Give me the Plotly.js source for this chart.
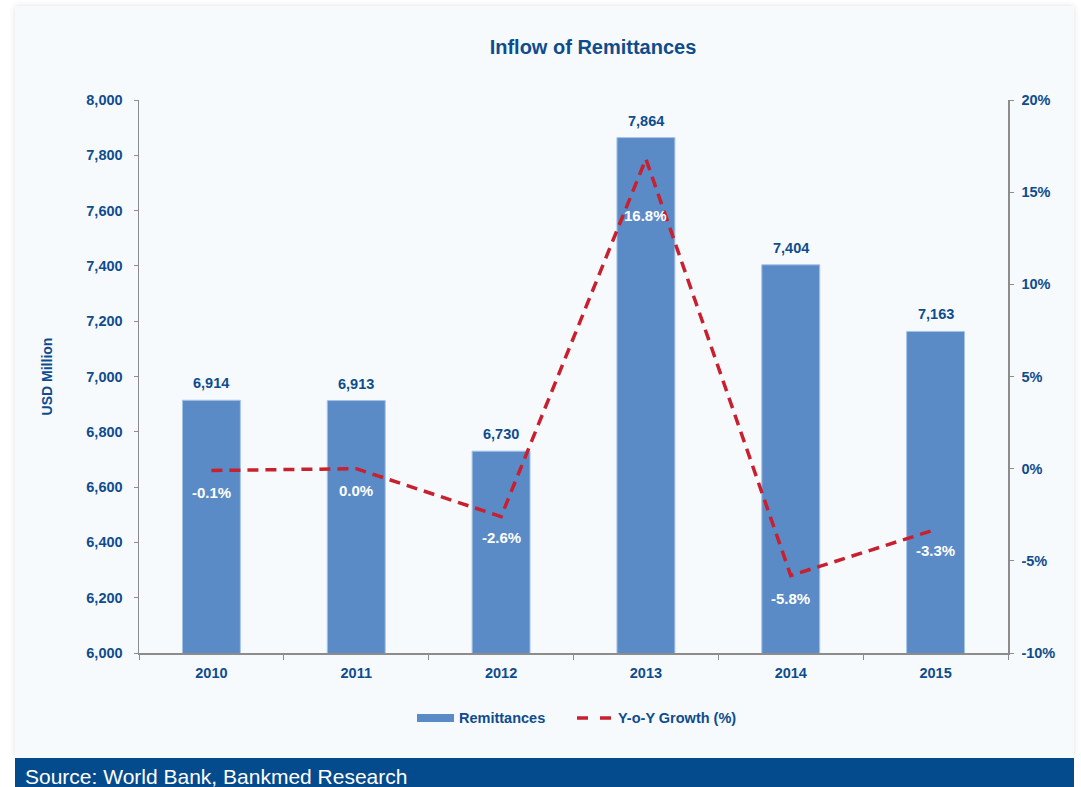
<!DOCTYPE html>
<html>
<head>
<meta charset="utf-8">
<script src="https://cdn.plot.ly/plotly-3.0.1.min.js"></script>
<style>
  html, body { margin: 0; padding: 0; background: #ffffff; }
  #wrap { position: relative; width: 1081px; height: 787px; overflow: hidden; }
  #panel { position: absolute; left: 15px; top: 6px; width: 1059px; height: 752px;
           background: #f6fafc; box-shadow: 0 0 6px rgba(0,0,0,0.12); }
  #chart { position: absolute; left: 0; top: 0; width: 1081px; height: 787px; }
  #footer { position: absolute; left: 15px; top: 758px; width: 1059px; height: 29px;
            background: #044b8d; color: #ffffff; font-family: "Liberation Sans", Arial, sans-serif;
            font-size: 21px; line-height: 37px; padding-left: 10px; box-sizing: border-box; overflow: hidden; }
</style>
</head>
<body>
<div id="wrap">
  <div id="panel"></div>
  <div id="chart"></div>
  <div id="footer">Source: World Bank, Bankmed Research</div>
</div>
<script>
const years = ['2010', '2011', '2012', '2013', '2014', '2015'];
const remittances = [6914, 6913, 6730, 7864, 7404, 7163];
const growth = [-0.1, 0.0, -2.6, 16.8, -5.8, -3.3];
const growthLabels = ['-0.1%', '0.0%', '-2.6%', '16.8%', '-5.8%', '-3.3%'];
const y2TickVals = [-10, -5, 0, 5, 10, 15, 20];
const y2TickText = ['-10%', '-5%', '0%', '5%', '10%', '15%', '20%'];
const seriesNames = ['Remittances', 'Y-o-Y Growth (%)'];

// style: vertical offsets (px) of the growth labels below their points
const growthLabelShift = [-22, -22, -21, -57, -23, -21];

const darkBlue = '#0f4c8e';
const barColor = '#5a8bc7';
const lineColor = '#c8202e';
const font = 'Liberation Sans, Arial, sans-serif';
const fs = 14.5;

const traces = [
  {
    type: 'bar', name: seriesNames[0], x: years, y: remittances,
    marker: { color: barColor, line: { color: '#a8c3e6', width: 1 } },
    showlegend: false
  },
  {
    type: 'scatter', mode: 'lines', name: seriesNames[1], x: years, y: growth,
    yaxis: 'y2', showlegend: false,
    line: { color: lineColor, width: 3.5, dash: '11px,7px' }
  }
];

const annotations = [];
years.forEach((yr, i) => {
  annotations.push({
    x: i, y: remittances[i], xref: 'x', yref: 'y',
    text: '<b>' + remittances[i].toLocaleString('en-US') + '</b>',
    showarrow: false, yanchor: 'bottom', yshift: 7,
    font: { family: font, size: fs, color: darkBlue }
  });
  annotations.push({
    x: i, y: growth[i], xref: 'x', yref: 'y2',
    text: '<b>' + growthLabels[i] + '</b>', showarrow: false, yshift: growthLabelShift[i],
    font: { family: font, size: 15, color: '#ffffff' }
  });
});

// custom legend (pixel layout converted to paper coordinates)
const L = 139, W = 869, B = 653, H = 553;
const px = X => (X - L) / W;
const py = Y => (B - Y) / H;
annotations.push({
  xref: 'paper', yref: 'paper', x: px(457), y: py(718), xanchor: 'left', yanchor: 'middle',
  text: '<b>' + seriesNames[0] + '</b>', showarrow: false,
  font: { family: font, size: fs, color: darkBlue }
});
annotations.push({
  xref: 'paper', yref: 'paper', x: px(616), y: py(718), xanchor: 'left', yanchor: 'middle',
  text: '<b>' + seriesNames[1] + '</b>', showarrow: false,
  font: { family: font, size: fs, color: darkBlue }
});
const shapes = [
  { type: 'rect', xref: 'paper', yref: 'paper', x0: px(417), x1: px(454), y0: py(722), y1: py(714),
    fillcolor: barColor, line: { width: 0 } },
  { type: 'line', xref: 'paper', yref: 'paper', x0: px(577), x1: px(611), y0: py(718), y1: py(718),
    line: { color: lineColor, width: 3.5, dash: '11px,12px' } }
];

const layout = {
  width: 1081, height: 787,
  paper_bgcolor: 'rgba(0,0,0,0)', plot_bgcolor: 'rgba(0,0,0,0)',
  margin: { l: L, r: 1081 - L - W, t: 100, b: 787 - B },
  font: { family: font, color: darkBlue, size: fs },
  title: {
    text: '<b>Inflow of Remittances</b>', xref: 'container', yref: 'container',
    x: 593 / 1081, y: 1 - 47 / 787, xanchor: 'center', yanchor: 'middle',
    font: { family: font, size: 20, color: darkBlue }
  },
  bargap: 0.6,
  showlegend: false,
  xaxis: {
    type: 'category', range: [-0.5, 5.5], autorange: false,
    showline: true, linecolor: '#8c8c8c', linewidth: 1.5,
    ticks: 'outside', tickson: 'boundaries', ticklen: 5, tickcolor: '#8c8c8c',
    tickangle: 0, ticklabelstandoff: 6,
    tickfont: { family: font, size: fs, color: darkBlue, weight: 'bold' },
    showgrid: false, zeroline: false
  },
  yaxis: {
    range: [6000, 8000], dtick: 200, tickformat: ',d',
    showline: true, linecolor: '#8c8c8c', linewidth: 1.5,
    ticks: 'outside', ticklen: 4, tickcolor: '#8c8c8c', ticklabelstandoff: 8,
    tickfont: { family: font, size: fs, color: darkBlue, weight: 'bold' },
    showgrid: false, zeroline: false,
    title: { text: '<b>USD Million</b>', standoff: 30, font: { family: font, size: 14, color: darkBlue } }
  },
  yaxis2: {
    overlaying: 'y', side: 'right', range: [-10, 20],
    tickmode: 'array', tickvals: y2TickVals, ticktext: y2TickText,
    showline: true, linecolor: '#8c8c8c', linewidth: 1.5,
    ticks: 'outside', ticklen: 4, tickcolor: '#8c8c8c', ticklabelstandoff: 5,
    tickfont: { family: font, size: fs, color: darkBlue, weight: 'bold' },
    showgrid: false, zeroline: false
  },
  annotations: annotations,
  shapes: shapes
};

Plotly.newPlot('chart', traces, layout, { displayModeBar: false, staticPlot: true });
</script>
</body>
</html>
